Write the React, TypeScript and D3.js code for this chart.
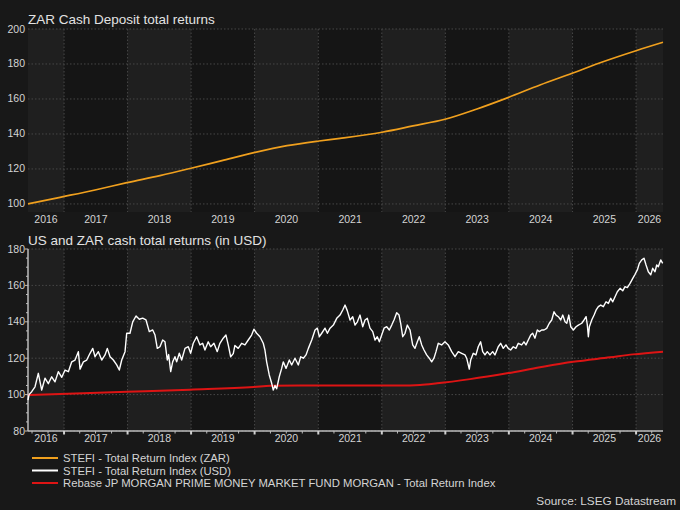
import React from "react";
import * as d3 from "d3";

// ---------- data (decimal years, index values) ----------
const zarYears = [2016.434, 2016.937, 2017.488, 2017.991, 2018.51, 2018.998, 2019.486, 2019.989, 2020.509, 2021.012, 2021.342, 2022.003, 2022.491, 2022.994, 2023.498, 2023.986, 2024.489, 2024.993, 2025.48, 2025.999, 2026.424];
const zarValues = [100, 103.8, 108, 112.2, 116.2, 120.4, 124.8, 129.3, 133.3, 136, 137.5, 141, 144.6, 148.4, 154.3, 160.8, 168, 174.7, 181.3, 187.6, 192.4];

const usdYears = [
  2016.434, 2016.45, 2016.492, 2016.544, 2016.596, 2016.649, 2016.701, 2016.753, 2016.806, 2016.858, 2016.91, 2016.964,
  2017.016, 2017.068, 2017.121, 2017.173, 2017.225, 2017.252, 2017.304, 2017.357, 2017.409, 2017.452, 2017.488, 2017.54,
  2017.593, 2017.645, 2017.681, 2017.724, 2017.776, 2017.829, 2017.87, 2017.908, 2017.96, 2017.986, 2018.038, 2018.081,
  2018.133, 2018.185, 2018.238, 2018.29, 2018.342, 2018.396, 2018.432, 2018.468, 2018.51, 2018.553, 2018.589, 2018.625,
  2018.647, 2018.679, 2018.71, 2018.746, 2018.773, 2018.814, 2018.852, 2018.904, 2018.956, 2018.993, 2019.034, 2019.088,
  2019.14, 2019.182, 2019.218, 2019.27, 2019.308, 2019.36, 2019.412, 2019.454, 2019.506, 2019.549, 2019.585, 2019.623,
  2019.664, 2019.69, 2019.742, 2019.796, 2019.848, 2019.9, 2019.953, 2019.989, 2020.032, 2020.084, 2020.136, 2020.162,
  2020.189, 2020.23, 2020.268, 2020.293, 2020.32, 2020.346, 2020.387, 2020.425, 2020.45, 2020.493, 2020.545, 2020.582,
  2020.634, 2020.686, 2020.724, 2020.765, 2020.807, 2020.844, 2020.897, 2020.949, 2020.985, 2021.017, 2021.054, 2021.106,
  2021.143, 2021.185, 2021.237, 2021.29, 2021.342, 2021.385, 2021.421, 2021.457, 2021.5, 2021.542, 2021.578, 2021.615,
  2021.657, 2021.699, 2021.736, 2021.772, 2021.814, 2021.857, 2021.893, 2021.929, 2021.961, 2021.998, 2022.035, 2022.077,
  2022.118, 2022.156, 2022.192, 2022.234, 2022.271, 2022.297, 2022.329, 2022.365, 2022.401, 2022.444, 2022.486, 2022.522,
  2022.559, 2022.59, 2022.628, 2022.664, 2022.706, 2022.747, 2022.785, 2022.821, 2022.853, 2022.889, 2022.942, 2022.994,
  2023.046, 2023.1, 2023.152, 2023.204, 2023.257, 2023.309, 2023.336, 2023.377, 2023.399, 2023.44, 2023.482, 2023.518,
  2023.556, 2023.588, 2023.624, 2023.66, 2023.702, 2023.745, 2023.781, 2023.833, 2023.871, 2023.912, 2023.954, 2023.99,
  2024.028, 2024.069, 2024.111, 2024.148, 2024.201, 2024.237, 2024.269, 2024.305, 2024.343, 2024.374, 2024.41, 2024.447,
  2024.478, 2024.516, 2024.552, 2024.594, 2024.635, 2024.673, 2024.709, 2024.741, 2024.777, 2024.815, 2024.846, 2024.882,
  2024.909, 2024.941, 2024.972, 2025.013, 2025.055, 2025.092, 2025.145, 2025.181, 2025.213, 2025.233, 2025.249, 2025.265,
  2025.302, 2025.339, 2025.37, 2025.406, 2025.444, 2025.485, 2025.527, 2025.564, 2025.601, 2025.633, 2025.669, 2025.705,
  2025.748, 2025.79, 2025.826, 2025.863, 2025.905, 2025.948, 2025.984, 2026.02, 2026.051, 2026.089, 2026.125, 2026.157,
  2026.193, 2026.231, 2026.262, 2026.298, 2026.325, 2026.35, 2026.388, 2026.419,
];
const usdValues = [
  97, 100, 101.6, 104.3, 111.7, 102.5, 109, 106, 109.8, 107, 112.6, 109.5,
  113.5, 112.6, 118, 119, 123.6, 114, 118, 119, 122.7, 125.4, 120.8, 123.6,
  119, 121.8, 125.4, 120.8, 119, 116.3, 113.5, 119, 123.6, 133.7, 133.7, 140,
  143.2, 141.4, 142, 141, 134.6, 135.5, 132.7, 125.4, 126.3, 130, 129, 119,
  122, 112.6, 118, 120.8, 118, 122.7, 119, 125.4, 126.3, 122.7, 128.2, 131.8,
  127.3, 128.2, 124.5, 129, 126.3, 128.2, 123.6, 128.2, 131, 132.7, 127.3, 120.8,
  122.5, 127, 125.4, 128.2, 127.3, 130, 132.7, 135.9, 133.7, 131.8, 128.2, 124.5,
  118, 110.8, 106.2, 102.5, 105, 103.2, 109.8, 114.4, 118, 114.4, 119, 116.3,
  120, 116.3, 120.8, 120, 121.8, 125.4, 130, 135.5, 136.5, 131.8, 133.7, 136.5,
  133.7, 136.5, 138.2, 141.9, 143.7, 146.5, 149.2, 146, 141, 142.8, 138.2, 140,
  143.7, 137.3, 141, 141.9, 136.5, 134.6, 130, 131.8, 129, 132.7, 136.5, 137.3,
  135.5, 138.2, 141, 145, 143.7, 139.1, 131.8, 133.7, 138.2, 135.5, 127.3, 125.4,
  129, 131.8, 127.3, 124.5, 121.8, 120, 118, 120, 123.6, 128.2, 127.3, 129,
  127.3, 123.6, 120.8, 123.6, 122.7, 121.8, 120, 114, 119, 122.7, 121.8, 126.3,
  129, 123.6, 121.8, 123.6, 121.8, 123.6, 121.8, 126.3, 128.2, 125.4, 127.3, 125.4,
  124.5, 126.3, 125.4, 128.2, 127.3, 129, 127.3, 130, 132.7, 133.7, 131, 135.5,
  134.6, 135.5, 135.5, 136.4, 139.2, 141, 145.5, 143.7, 142.8, 141, 143.7, 140,
  139.2, 143.7, 137.3, 135.5, 137.3, 138.2, 139.2, 141, 142.8, 138.2, 131.8, 137.3,
  141, 143.7, 146.4, 148.3, 149.2, 148.3, 151, 150.1, 152.9, 151, 153.8, 156.5,
  158.4, 157, 159.3, 158.8, 161.1, 163.9, 166.1, 168.5, 172.1, 174, 174.9, 171.2,
  167.5, 165.8, 169.4, 167.5, 171.2, 170.3, 174, 172.1,
];

const jpmYears = [2016.434, 2016.937, 2017.991, 2018.982, 2019.989, 2020.25, 2020.713, 2021.5, 2022.286, 2022.601, 2022.869, 2023.388, 2023.97, 2024.489, 2025.008, 2025.59, 2025.952, 2026.424];
const jpmValues = [99.7, 100.3, 101.5, 102.7, 104.2, 104.9, 105, 105, 105, 105.3, 106.2, 108.5, 111.7, 115, 118, 120.5, 122.1, 123.6];

const yearLabels = [2016, 2017, 2018, 2019, 2020, 2021, 2022, 2023, 2024, 2025, 2026];
const topTicks = [100, 120, 140, 160, 180, 200];
const bottomTicks = [80, 100, 120, 140, 160, 180];

const titleTop = "ZAR Cash Deposit total returns";
const titleBottom = "US and ZAR cash total returns (in USD)";
const legendLabels = [
  "STEFI - Total Return Index (ZAR)",
  "STEFI - Total Return Index (USD)",
  "Rebase JP MORGAN PRIME MONEY MARKET FUND MORGAN - Total Return Index",
];
const sourceText = "Source: LSEG Datastream";
const domainStart = 2016.434;
const domainEnd = 2026.424;

// ---------- styling ----------
const W = 680;
const H = 510;
const BG = "#181818";
const BAND_LIGHT = "#1f1f1f";
const BAND_DARK = "#151515";
const GRID = "#474747";
const TEXT = "#d4d4d4";
const ORANGE = "#f0a01e";
const WHITE = "#ffffff";
const RED = "#dd1414";
const FONT = "'Liberation Sans', Arial, sans-serif";

function toDate(t: number): Date {
  const y = Math.floor(t);
  const s = Date.UTC(y, 0, 1);
  const e = Date.UTC(y + 1, 0, 1);
  return new Date(s + (t - y) * (e - s));
}

const L = 28;
const R = 663;

const x = d3.scaleUtc().domain([toDate(domainStart), toDate(domainEnd)]).range([L, R]);

const topPanel = { top: 29, bottom: 212 };
const botPanel = { top: 249, bottom: 431 };
const yTop = d3.scaleLinear().domain([95.4, 200]).range([topPanel.bottom, topPanel.top]);
const yBot = d3.scaleLinear().domain([80, 180]).range([botPanel.bottom, botPanel.top]);

type Pt = [Date, number];
const zip = (ts: number[], vs: number[]): Pt[] => ts.map((t, i) => [toDate(t), vs[i]]);

function Panel({ y, panel, ticks, axis }: { y: d3.ScaleLinear<number, number>; panel: { top: number; bottom: number }; ticks: number[]; axis: boolean }) {
  const [d0, d1] = x.domain();
  const bands = yearLabels.map((yr, i) => {
    const s = new Date(Math.max(+d0, Date.UTC(yr, 0, 1)));
    const e = new Date(Math.min(+d1, Date.UTC(yr + 1, 0, 1)));
    return { yr, x0: x(s), x1: x(e), light: i % 2 === 0 };
  });
  const yearBounds = yearLabels.slice(1).map((yr) => x(new Date(Date.UTC(yr, 0, 1))));
  const quarters = d3.utcMonth.every(3)!.range(d0, d1).filter((d) => d.getUTCMonth() !== 0);
  const [ymin, ymax] = y.domain();
  const minorY = d3.range(Math.ceil(ymin / 5) * 5, ymax + 0.01, 5);
  return (
    <g>
      {bands.map((b) => (
        <rect key={b.yr} x={b.x0} y={panel.top} width={b.x1 - b.x0} height={panel.bottom - panel.top} fill={b.light ? BAND_LIGHT : BAND_DARK} />
      ))}
      {ticks.map((t) => (
        <line key={"h" + t} x1={L} x2={R} y1={y(t)} y2={y(t)} stroke={GRID} strokeWidth={1} strokeDasharray="1.5,2" />
      ))}
      {yearBounds.map((xx, i) => (
        <line key={"v" + i} x1={xx} x2={xx} y1={panel.top} y2={panel.bottom} stroke={GRID} strokeWidth={1} strokeDasharray="1.5,2" />
      ))}
      {ticks.map((t) => (
        <text key={"yl" + t} x={25} y={y(t) + 3.5} textAnchor="end" fontSize={10.5} fill={TEXT} fontFamily={FONT}>
          {t}
        </text>
      ))}
      {bands.map((b) => (
        <text key={"xl" + b.yr} x={(b.x0 + b.x1) / 2} y={panel.bottom + 10.5} textAnchor="middle" fontSize={10.5} fill={TEXT} fontFamily={FONT}>
          {b.yr}
        </text>
      ))}
      {axis && (
        <g>
          <line x1={L} x2={R} y1={panel.bottom} y2={panel.bottom} stroke="#bdbdbd" strokeWidth={1.5} />
          <line x1={L} x2={L} y1={panel.top} y2={panel.bottom} stroke="#bdbdbd" strokeWidth={1.5} />
          {yearBounds.map((xx, i) => (
            <line key={"mt" + i} x1={xx} x2={xx} y1={panel.bottom} y2={panel.bottom + 3.5} stroke="#d0d0d0" strokeWidth={2} />
          ))}
          {quarters.map((q, i) => (
            <line key={"qt" + i} x1={x(q)} x2={x(q)} y1={panel.bottom} y2={panel.bottom + 2.5} stroke="#bdbdbd" strokeWidth={1} />
          ))}
          {minorY.map((v) => (
            <line key={"yt" + v} x1={L - (v % 20 === 0 ? 3 : 2)} x2={L} y1={y(v)} y2={y(v)} stroke="#bdbdbd" strokeWidth={1} />
          ))}
        </g>
      )}
    </g>
  );
}

export default function App() {
  const lineTop = d3.line<Pt>().x((d) => x(d[0])).y((d) => yTop(d[1])).curve(d3.curveMonotoneX);
  const lineBotSmooth = d3.line<Pt>().x((d) => x(d[0])).y((d) => yBot(d[1])).curve(d3.curveMonotoneX);
  const lineBot = d3.line<Pt>().x((d) => x(d[0])).y((d) => yBot(d[1]));

  const legendY = [458, 470.5, 483];
  const legendColors = [ORANGE, WHITE, RED];

  return (
    <svg width={W} height={H} style={{ position: "absolute", left: 0, top: 0, display: "block" }}>
      <rect x={0} y={0} width={W} height={H} fill={BG} />
      <text x={L} y={24} fontSize={13.5} fill="#e2e2e2" fontFamily={FONT}>
        {titleTop}
      </text>
      <text x={L} y={245} fontSize={13.5} fill="#e2e2e2" fontFamily={FONT}>
        {titleBottom}
      </text>

      <Panel y={yTop} panel={topPanel} ticks={topTicks} axis={false} />
      <Panel y={yBot} panel={botPanel} ticks={bottomTicks} axis={true} />

      <path d={lineTop(zip(zarYears, zarValues)) || ""} fill="none" stroke={ORANGE} strokeWidth={1.7} />
      <path d={lineBotSmooth(zip(jpmYears, jpmValues)) || ""} fill="none" stroke={RED} strokeWidth={2} />
      <path d={lineBot(zip(usdYears, usdValues)) || ""} fill="none" stroke={WHITE} strokeWidth={1.4} strokeLinejoin="round" />

      {legendLabels.map((lab, i) => (
        <g key={lab}>
          <line x1={32} x2={58} y1={legendY[i]} y2={legendY[i]} stroke={legendColors[i]} strokeWidth={2} />
          <text x={63} y={legendY[i] + 4} fontSize={11.3} fill={TEXT} fontFamily={FONT}>
            {lab}
          </text>
        </g>
      ))}
      <text x={676} y={505} textAnchor="end" fontSize={11.8} fill={TEXT} fontFamily={FONT}>
        {sourceText}
      </text>
    </svg>
  );
}
